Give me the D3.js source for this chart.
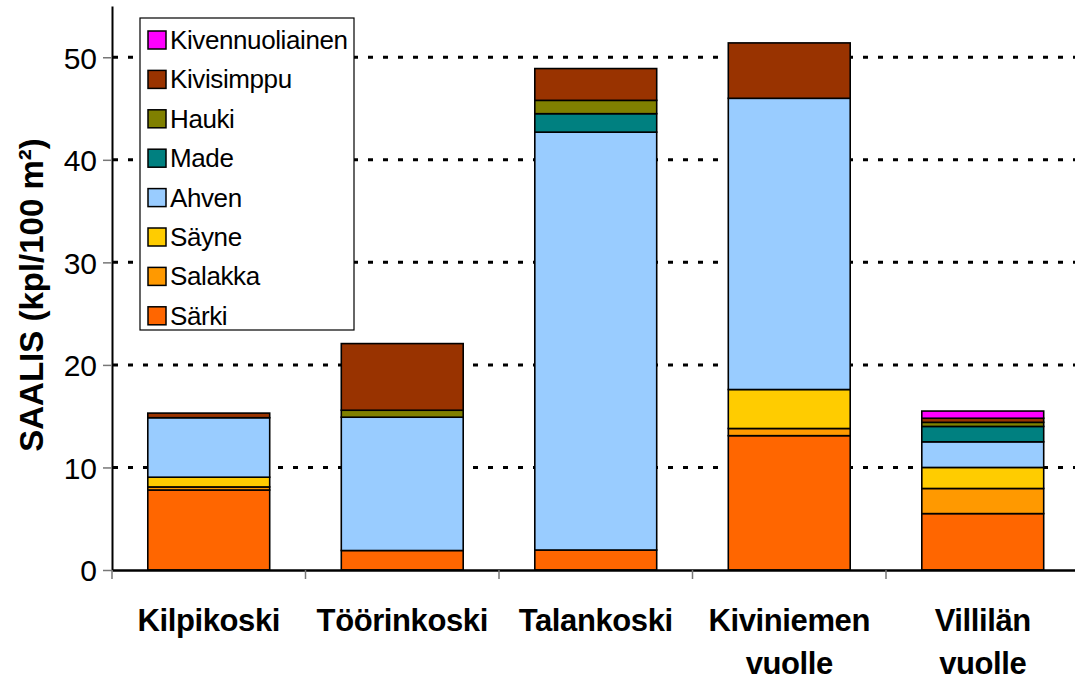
<!DOCTYPE html>
<html>
<head>
<meta charset="utf-8">
<script src="https://cdn.jsdelivr.net/npm/d3@7"></script>
<style>
  body { margin: 0; background: #fff; }
  svg { font-family: "Liberation Sans", Arial, sans-serif; }
  .grid line { stroke: #000; stroke-width: 3; stroke-dasharray: 5 10; }
</style>
</head>
<body>
<script>
var w = 1075;
var h = 681;

// sites (two line labels split with |)
var sites = ["Kilpikoski", "Töörinkoski", "Talankoski", "Kiviniemen|vuolle", "Villilän|vuolle"];

// species, bottom of stack first
var species = ["Särki", "Salakka", "Säyne", "Ahven", "Made", "Hauki", "Kivisimppu", "Kivennuoliainen"];
var colors = ["#ff6600", "#ff9900", "#ffcc00", "#99ccff", "#008080", "#808000", "#993300", "#ff00ff"];

// catch per site, kpl/100 m2
var sarki   = [7.8, 1.9, 1.95, 13.1, 5.5];
var salakka = [0.3, 0, 0, 0.7, 2.45];
var sayne   = [0.95, 0, 0, 3.8, 2.05];
var ahven   = [5.8, 13.0, 40.75, 28.4, 2.5];
var made    = [0, 0, 1.8, 0, 1.5];
var hauki   = [0, 0.68, 1.3, 0, 0.4];
var kivisimppu = [0.45, 6.5, 3.1, 5.4, 0.4];
var kivennuoliainen = [0, 0, 0, 0, 0.7];

var yTicks = [0, 10, 20, 30, 40, 50];

var series = [sarki, salakka, sayne, ahven, made, hauki, kivisimppu, kivennuoliainen];

var table = sites.map(function(s, i) {
  var row = { site: s };
  species.forEach(function(sp, j) { row[sp] = series[j][i]; });
  return row;
});

var svg = d3.select("body")
    .append("svg")
    .attr("width", w)
    .attr("height", h);

var xScale = d3.scaleBand()
    .domain(sites)
    .range([112, 1079.5]);

var yScale = d3.scaleLinear()
    .domain([0, 55])
    .range([570, 6]);

var barW = xScale.bandwidth() * 0.63;

// dotted gridlines
svg.append("g")
    .attr("class", "grid")
    .selectAll("line")
    .data(yTicks.slice(1))
    .enter()
    .append("line")
    .attr("x1", 113)
    .attr("x2", w)
    .attr("y1", function(d) { return yScale(d); })
    .attr("y2", function(d) { return yScale(d); });

var stack = d3.stack().keys(species);
var layers = stack(table);

svg.selectAll(".layer")
    .data(layers)
    .enter()
    .append("g")
    .attr("class", "layer")
    .attr("fill", function(d, i) { return colors[i]; })
    .selectAll("rect")
    .data(function(d) { return d.filter(function(p) { return p[1] - p[0] > 0; }); })
    .enter()
    .append("rect")
    .attr("x", function(d) { return xScale(d.data.site) + (xScale.bandwidth() - barW) / 2; })
    .attr("y", function(d) { return yScale(d[1]); })
    .attr("width", barW)
    .attr("height", function(d) { return yScale(d[0]) - yScale(d[1]); })
    .attr("stroke", "#000")
    .attr("stroke-width", 1.6);

// y axis
var yAxis = d3.axisLeft(yScale)
    .tickValues(yTicks)
    .tickSize(9)
    .tickPadding(6)
    .tickSizeOuter(0);

var gy = svg.append("g")
    .attr("transform", "translate(112,0)")
    .call(yAxis);
gy.select(".domain").attr("stroke", "#000").attr("stroke-width", 2);
gy.selectAll(".tick line").attr("stroke", "#777").attr("stroke-width", 1.5);
gy.selectAll(".tick text")
    .attr("font-size", 30)
    .attr("fill", "#000")
    .attr("dy", "0.36em");

// x axis
var xAxis = d3.axisBottom(xScale)
    .tickSize(0)
    .tickFormat("");

var gx = svg.append("g")
    .attr("transform", "translate(0,570)")
    .call(xAxis);
gx.select(".domain").attr("stroke", "#000").attr("stroke-width", 2.5);

// boundary ticks between categories
gx.selectAll(".sep")
    .data(sites)
    .enter()
    .append("line")
    .attr("class", "sep")
    .attr("x1", function(d) { return xScale(d); })
    .attr("x2", function(d) { return xScale(d); })
    .attr("y1", 0)
    .attr("y2", 9)
    .attr("stroke", "#777")
    .attr("stroke-width", 1.5);

// category labels
var lab = svg.selectAll(".cat")
    .data(sites)
    .enter()
    .append("text")
    .attr("class", "cat")
    .attr("text-anchor", "middle")
    .attr("font-size", 31)
    .attr("font-weight", "bold")
    .attr("letter-spacing", -0.4);

lab.selectAll("tspan")
    .data(function(d) {
      var x = xScale(d) + xScale.bandwidth() / 2;
      return d.split("|").map(function(t) { return { t: t, x: x }; });
    })
    .enter()
    .append("tspan")
    .attr("x", function(d) { return d.x; })
    .attr("y", function(d, i) { return 631 + i * 43; })
    .text(function(d) { return d.t; });

// y title
svg.append("text")
    .attr("transform", "translate(43,295) rotate(-90)")
    .attr("text-anchor", "middle")
    .attr("font-size", 33)
    .attr("font-weight", "bold")
    .text("SAALIS (kpl/100 m²)");

// legend, top species first
var legend = svg.append("g");

legend.append("rect")
    .attr("x", 140)
    .attr("y", 18)
    .attr("width", 214)
    .attr("height", 312)
    .attr("fill", "#fff")
    .attr("stroke", "#000")
    .attr("stroke-width", 1.2);

var legOrder = species.slice().reverse();

var item = legend.selectAll(".item")
    .data(legOrder)
    .enter()
    .append("g")
    .attr("class", "item")
    .attr("transform", function(d, i) { return "translate(0," + (40 + i * 39.4) + ")"; });

item.append("rect")
    .attr("x", 148)
    .attr("y", -9)
    .attr("width", 18)
    .attr("height", 18)
    .attr("fill", function(d) { return colors[species.indexOf(d)]; })
    .attr("stroke", "#000")
    .attr("stroke-width", 1.5);

item.append("text")
    .attr("x", 170)
    .attr("y", 9)
    .attr("font-size", 26)
    .attr("letter-spacing", -0.4)
    .text(function(d) { return d; });
</script>
</body>
</html>
